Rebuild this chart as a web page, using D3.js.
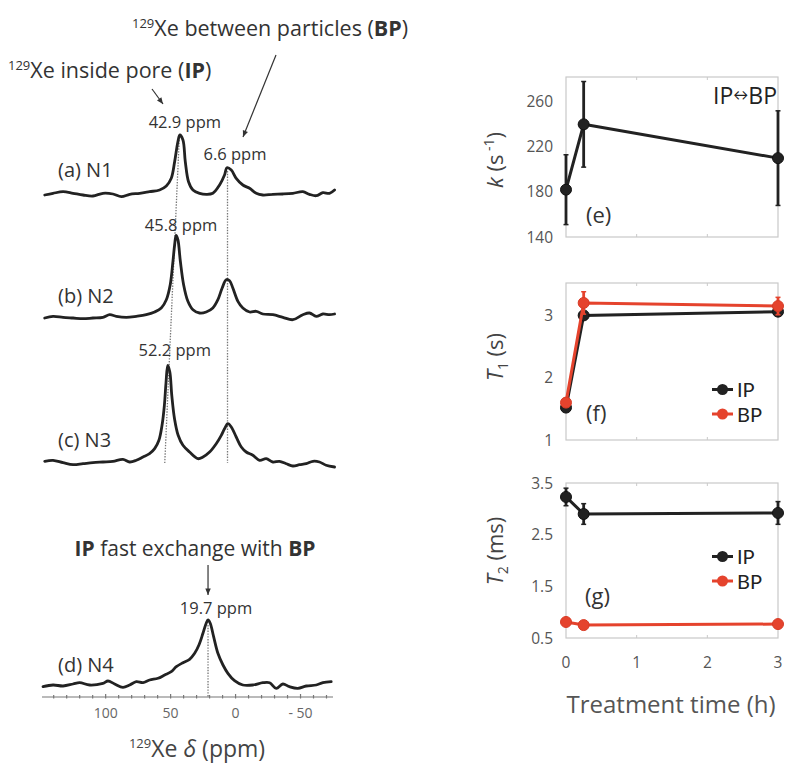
<!DOCTYPE html>
<html><head><meta charset="utf-8">
<script src="https://cdn.jsdelivr.net/npm/d3@7"></script>
<style>body{margin:0;background:#fff}svg{display:block}text{font-family:"Open Sans",Lato,sans-serif}text.leg{font-family:Lato,"Open Sans",sans-serif}</style>
</head><body><svg id="c" width="786" height="766"></svg>
<script>
// ---------- DATA ----------
const spectrumNames = ["(a) N1", "(b) N2", "(c) N3", "(d) N4"];
const n1Ppm = [146.9,140.5,132.8,125.1,117.4,109.8,102.1,94.4,87.9,81.5,73.8,66.2,58.5,53.3,49.5,46.9,44.4,42.9,40.5,38.7,36.2,32.8,27.7,22.6,17.5,12.3,8.5,6.6,3.3,-0.5,-5.6,-10.8,-15.9,-21,-28.7,-36.4,-44.1,-51.8,-56.9,-62.1,-67.2,-72.3,-76.2];
const n1Int = [0,1.7,3.3,1.7,0,-1,1.7,1,-1.7,0.7,1.7,3.3,5,9,16.7,33.3,53.3,60,55,33.3,13.3,5,1.7,0.7,1.7,10,20,27.3,25,16.7,10,6.7,1.7,0,0.7,1,1.7,3.3,0.7,-0.7,2.3,1.7,5];
const n2Ppm = [146.9,140.5,132.8,125.1,117.4,109.8,102.1,96.9,91.8,84.1,76.4,68.7,62.3,57.2,53.3,50.3,48.2,46.9,45.8,44.4,42.5,40,36.7,32.8,27.7,22.6,17.5,13.6,10.3,7.2,4.6,2.1,-1.8,-5.6,-10.8,-15.9,-21,-28.7,-36.4,-44.1,-51.8,-56.9,-62.1,-67.2,-72.3,-76.2];
const n2Int = [0,1.7,0.7,0,-0.7,0,0.7,3.3,1.7,0.7,1.7,3.3,6,10,18.3,33.3,56.7,73.3,82.7,78.3,56.7,33.3,16.7,8.3,5,6,10,18.3,30,38.3,37.3,30,16.7,10,6,6.7,4,3.3,0.7,-1.7,3.3,5,1.7,4,3.3,4];
const n3Ppm = [146.9,140.5,132.8,125.1,117.4,109.8,102.1,94.4,86.7,81.5,76.4,71.3,66.2,62.3,59,56.6,54.8,53.5,52.2,50.6,49.1,47,44.2,40.5,35.4,29,25.1,20,14.9,11,8.5,5.9,3.3,-0.5,-4.4,-8.2,-13.3,-18.5,-23.6,-28.7,-33.8,-39,-44.1,-49.2,-54.4,-59.5,-64.6,-69.7,-76.2];
const n3Int = [0.7,1.7,-0.7,-2.7,-1.7,-0.7,0,0.7,2.7,0,1.7,5,8.3,13.3,21.7,36.7,56.7,80,96.7,90,66.7,43.3,26.7,16.7,10,3.3,5,10,18.3,26.7,33.3,38.3,35,25,15,10,6.7,1.7,3.3,0,0.7,-1.7,-4,-2.7,-1.7,0.7,0,-3.3,-5];
const n4Ppm = [148.2,140.5,132.8,125.1,120,112.3,102.1,98.2,93.1,86.7,81.5,76.4,71.3,66.2,59.7,54.6,49.5,45.6,40.5,35.4,31.5,28.2,25.1,22.6,21.2,19.5,16.9,13.6,9.7,5.9,0.8,-5.6,-13.3,-21,-26.2,-31.3,-36.4,-41.5,-47.9,-54.4,-62.1,-67.2,-73.6];
const n4Int = [-1.7,0,-1,1,2.3,0,1.7,4,1,-2.3,0,3.3,2.3,5,6.7,10,13.3,18.3,22.3,25.7,31.7,40,51.7,61.7,65,61.7,48.3,31.7,20,11.7,4.3,0,0,2.3,2.3,-3.3,1,-1.7,-3.3,-1,0,2.3,3.3];
const peakLabels = ["42.9 ppm", "6.6 ppm", "45.8 ppm", "52.2 ppm", "19.7 ppm"];
const ppmTicks = [100, 50, 0, -50];
const ppmTickLabels = ["100", "50", "0", "- 50"];

const timeH = [0, 0.25, 3];
const kVal = [182, 240, 210];
const kErr = [31, 38, 42];
const t1IP = [1.52, 3.0, 3.06];
const t1IPErr = [0.04, 0.05, 0.05];
const t1BP = [1.6, 3.2, 3.15];
const t1BPErr = [0.04, 0.18, 0.14];
const t2IP = [3.23, 2.9, 2.92];
const t2IPErr = [0.17, 0.2, 0.22];
const t2BP = [0.81, 0.75, 0.77];
const t2BPErr = [0.04, 0.03, 0.03];
const timeTicks = [0, 1, 2, 3];
const kTicks = [140, 180, 220, 260];
const t1Ticks = [1, 2, 3];
const t2Ticks = [0.5, 1.5, 2.5, 3.5];
const seriesNames = ["IP", "BP"];

// ---------- DRAWING ----------
const svg = d3.select("#c");
const BLACK = "#222", RED = "#e5432d";

// Left: spectra
const x = d3.scaleLinear().domain([149, -75]).range([42, 333]);
const yI = d3.scaleLinear().domain([0, 100]).range([0, -100]);
const baselines = [195, 318, 462, 685];
const spectra = [[n1Ppm, n1Int], [n2Ppm, n2Int], [n3Ppm, n3Int], [n4Ppm, n4Int]];
const line = d3.line().x(d => x(d[0])).y(d => yI(d[1])).curve(d3.curveCatmullRom.alpha(0.5));

const dotted = svg.append("g").attr("stroke", "#777").attr("stroke-width", 1.3).attr("stroke-dasharray", "1.4,1.4").attr("fill", "none");
dotted.append("line").attr("x1", x(43.4)).attr("y1", baselines[0] + yI(55)).attr("x2", x(54.5)).attr("y2", baselines[2] + yI(-1));
dotted.append("line").attr("x1", x(6.2)).attr("y1", baselines[0] + yI(24)).attr("x2", x(6.2)).attr("y2", baselines[2] + yI(-1));
dotted.append("line").attr("x1", x(21.2)).attr("y1", baselines[3] + yI(60)).attr("x2", x(21.2)).attr("y2", 697);

spectra.forEach((s, i) => {
  const pts = s[0].map((p, j) => [p, s[1][j]]);
  svg.append("path").attr("transform", `translate(0,${baselines[i]})`)
    .attr("d", line(pts)).attr("fill", "none").attr("stroke", BLACK)
    .attr("stroke-width", 2.8).attr("stroke-linejoin", "round").attr("stroke-linecap", "round");
});

const nameY = [177, 303, 447, 672];
spectrumNames.forEach((n, i) => {
  svg.append("text").attr("x", 58).attr("y", nameY[i]).attr("font-size", 20).attr("fill", "#333").text(n);
});
const plPos = [[x(42.9) + 5, 128], [x(6.6) + 8, 160], [x(45.8) + 5, 231], [x(52.2) + 7, 356], [x(21.2) + 8, 614]];
peakLabels.forEach((t, i) => {
  svg.append("text").attr("x", plPos[i][0]).attr("y", plPos[i][1]).attr("text-anchor", "middle")
    .attr("font-size", 16.5).attr("fill", "#333").text(t);
});

// ppm axis
const axY = 697;
svg.append("line").attr("x1", 42).attr("x2", 333).attr("y1", axY).attr("y2", axY).attr("stroke", "#777").attr("stroke-width", 1.2);
d3.range(140, -80, -10).forEach(v => {
  const major = ppmTicks.includes(v);
  svg.append("line").attr("x1", x(v)).attr("x2", x(v)).attr("y1", axY - (major ? 3 : 2)).attr("y2", axY + 1.5)
    .attr("stroke", "#777").attr("stroke-width", 1.2);
});
ppmTicks.forEach((v, i) => {
  svg.append("text").attr("x", x(v)).attr("y", 718).attr("text-anchor", "middle").attr("font-size", 14)
    .attr("fill", "#666").text(ppmTickLabels[i]);
});
const axt = svg.append("text").attr("x", 197).attr("y", 757).attr("text-anchor", "middle").attr("font-size", 23).attr("fill", "#444");
axt.append("tspan").attr("font-size", 13).attr("dy", -9).text("129");
axt.append("tspan").attr("dy", 9).text("Xe ");
axt.append("tspan").attr("font-style", "italic").text("δ");
axt.append("tspan").text(" (ppm)");

// annotations
function arrowHead(x1, y1, x2, y2, size) {
  const a = Math.atan2(y2 - y1, x2 - x1);
  const p1 = [x2 - size * Math.cos(a - 0.4), y2 - size * Math.sin(a - 0.4)];
  const p2 = [x2 - size * Math.cos(a + 0.4), y2 - size * Math.sin(a + 0.4)];
  svg.append("path").attr("d", `M${x2},${y2}L${p1[0]},${p1[1]}L${p2[0]},${p2[1]}Z`).attr("fill", "#333");
}
function arrow(x1, y1, x2, y2) {
  svg.append("line").attr("x1", x1).attr("y1", y1).attr("x2", x2).attr("y2", y2).attr("stroke", "#333").attr("stroke-width", 1.2);
  arrowHead(x1, y1, x2, y2, 7);
}
const t1 = svg.append("text").attr("x", 132).attr("y", 36).attr("font-size", 21.5).attr("fill", "#333");
t1.append("tspan").attr("font-size", 13).attr("dy", -8).text("129");
t1.append("tspan").attr("dy", 8).text("Xe between particles (");
t1.append("tspan").attr("font-weight", "bold").text("BP");
t1.append("tspan").text(")");
const t2 = svg.append("text").attr("x", 8).attr("y", 78).attr("font-size", 21.5).attr("fill", "#333");
t2.append("tspan").attr("font-size", 13).attr("dy", -8).text("129");
t2.append("tspan").attr("dy", 8).text("Xe inside pore (");
t2.append("tspan").attr("font-weight", "bold").text("IP");
t2.append("tspan").text(")");
arrow(152, 89, 163, 104);
arrow(276, 55, 243, 137);
const t3 = svg.append("text").attr("x", 195).attr("y", 556).attr("text-anchor", "middle").attr("font-size", 21).attr("fill", "#333");
t3.append("tspan").attr("font-weight", "bold").text("IP");
t3.append("tspan").text(" fast exchange with ");
t3.append("tspan").attr("font-weight", "bold").text("BP");
arrow(x(21.2), 565, x(21.2), 595);

// Right panels
const xt = d3.scaleLinear().domain([0, 3]).range([566, 778]);
const panels = [
  {y: d3.scaleLinear().domain([140, 282]).range([237, 77]), ticks: kTicks, series: [[kVal, kErr, BLACK]], tag: "(e)", tagPos: [586, 223], titleY: 160, title: "k"},
  {y: d3.scaleLinear().domain([1, 3.52]).range([440, 283]), ticks: t1Ticks, series: [[t1IP, t1IPErr, BLACK], [t1BP, t1BPErr, RED]], tag: "(f)", tagPos: [586, 421], titleY: 357, title: "T1", legendY: [389.5, 414]},
  {y: d3.scaleLinear().domain([0.5, 3.5]).range([638, 483]), ticks: t2Ticks, series: [[t2IP, t2IPErr, BLACK], [t2BP, t2BPErr, RED]], tag: "(g)", tagPos: [585, 604], titleY: 551, title: "T2", legendY: [556.5, 581]}
];
panels.forEach(P => {
  const [y0, y1] = P.y.range();
  const g = svg.append("g");
  g.append("rect").attr("x", xt(0)).attr("y", y1).attr("width", xt(3) - xt(0)).attr("height", y0 - y1)
    .attr("fill", "none").attr("stroke", "#c9c9c9").attr("stroke-width", 1.2);
  timeTicks.slice(1, 3).forEach(t => {
    g.append("line").attr("x1", xt(t)).attr("x2", xt(t)).attr("y1", y0).attr("y2", y0 - 3).attr("stroke", "#c9c9c9");
    g.append("line").attr("x1", xt(t)).attr("x2", xt(t)).attr("y1", y1).attr("y2", y1 + 3).attr("stroke", "#c9c9c9");
  });
  P.ticks.forEach(t => {
    g.append("text").attr("x", 553).attr("y", P.y(t) + 5.5).attr("text-anchor", "end").attr("font-size", 15.5)
      .attr("fill", "#555").text(t);
  });
  const ln = d3.line().x((d, i) => xt(timeH[i])).y(d => P.y(d));
  P.series.forEach(([vals, errs, col]) => {
    vals.forEach((v, i) => {
      g.append("line").attr("x1", xt(timeH[i])).attr("x2", xt(timeH[i])).attr("y1", P.y(v - errs[i])).attr("y2", P.y(v + errs[i]))
        .attr("stroke", col).attr("stroke-width", 2.8);
      [v - errs[i], v + errs[i]].forEach(e => g.append("line").attr("x1", xt(timeH[i]) - 2.5).attr("x2", xt(timeH[i]) + 2.5)
        .attr("y1", P.y(e)).attr("y2", P.y(e)).attr("stroke", col).attr("stroke-width", 1.5));
    });
    g.append("path").attr("d", ln(vals)).attr("fill", "none").attr("stroke", col).attr("stroke-width", 3);
    vals.forEach((v, i) => {
      g.append("circle").attr("cx", xt(timeH[i])).attr("cy", P.y(v)).attr("r", 5.5).attr("fill", col)
        .attr("stroke", col === BLACK ? "#111" : "#d83a25").attr("stroke-width", 1);
    });
  });
  g.append("text").attr("x", P.tagPos[0]).attr("y", P.tagPos[1]).attr("font-size", 22).attr("fill", "#333").text(P.tag);
  const tt = g.append("text").attr("transform", `translate(${503},${P.titleY}) rotate(-90)`).attr("text-anchor", "middle")
    .attr("font-size", 22).attr("fill", "#444");
  if (P.title === "k") {
    tt.append("tspan").attr("font-style", "italic").text("k");
    tt.append("tspan").text(" (s");
    tt.append("tspan").attr("font-size", 14).attr("dy", -9).text(" -1");
    tt.append("tspan").attr("dy", 9).text(")");
  } else {
    tt.append("tspan").attr("font-style", "italic").text("T");
    tt.append("tspan").attr("font-size", 14).attr("dy", 5).text(P.title.slice(1));
    tt.append("tspan").attr("dy", -5).text(P.title === "T1" ? "  (s)" : "  (ms)");
  }
  if (P.legendY) {
    P.series.forEach((s, si) => {
      const ly = P.legendY[si];
      g.append("line").attr("x1", 712).attr("x2", 733).attr("y1", ly).attr("y2", ly).attr("stroke", s[2]).attr("stroke-width", 3);
      g.append("circle").attr("cx", 722.5).attr("cy", ly).attr("r", 5.5).attr("fill", s[2]);
      g.append("text").attr("class", "leg").attr("x", 737).attr("y", ly + 7.5).attr("font-size", 20).attr("fill", "#222").text(seriesNames[si]);
    });
  }
});
const ib = svg.append("text").attr("x", 777).attr("y", 104).attr("text-anchor", "end").attr("font-size", 23).attr("fill", "#222");
ib.append("tspan").text("IP");
ib.append("tspan").attr("font-size", 15).attr("dy", -4).text("↔");
ib.append("tspan").attr("dy", 4).text("BP");
timeTicks.forEach(t => {
  svg.append("text").attr("x", xt(t)).attr("y", 668).attr("text-anchor", "middle").attr("font-size", 15.5).attr("fill", "#555").text(t);
});
svg.append("text").attr("x", 671).attr("y", 713).attr("text-anchor", "middle").attr("font-size", 24).attr("fill", "#555").text("Treatment time (h)");
</script></body></html>
